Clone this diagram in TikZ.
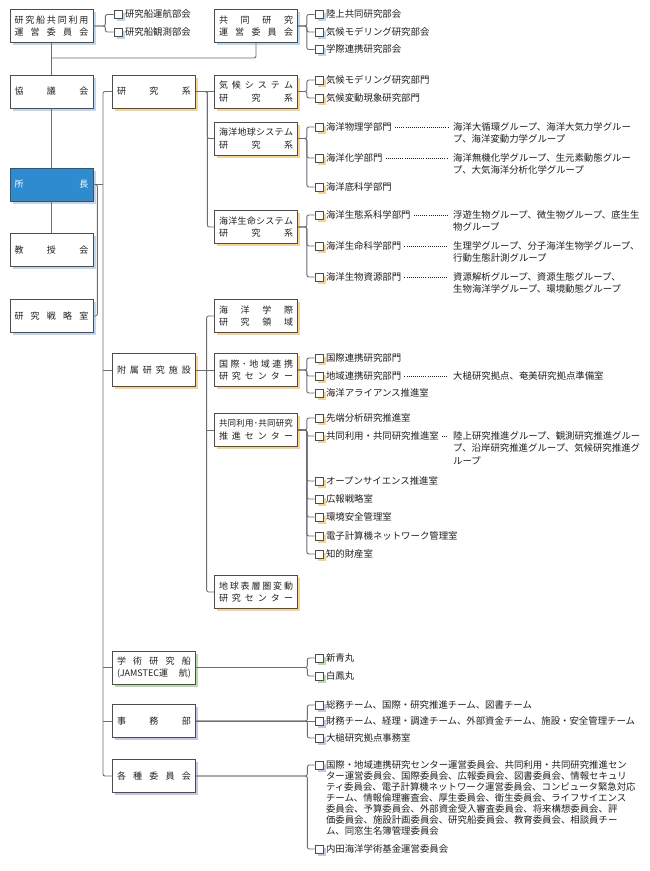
\documentclass[tikz,border=0pt]{standalone}
\usepackage{fontspec}
\setmainfont{Noto Sans CJK JP}
\usetikzlibrary{shadows}

\definecolor{lgrau}{HTML}{6D6E71}
\definecolor{rahmen}{HTML}{4D4D4F}
\definecolor{schrift}{HTML}{231F20}
\definecolor{leitung}{HTML}{2E8BCF}
\definecolor{sblau}{HTML}{BCD8F0}
\definecolor{sorange}{HTML}{F9D28E}
\definecolor{sgruen}{HTML}{B6DBA9}
\definecolor{slila}{HTML}{C9C3E6}

% Zeichen ueber die Kastenbreite verteilen
\makeatletter
\def\vt@ende{\vt@ende@}
\newcommand{\verteilt}[1]{\hbox to 74pt{\vt@a#1\vt@ende}}
\def\vt@a#1{#1\vt@b}
\def\vt@b#1{\ifx#1\vt@ende\else\hfill#1\expandafter\vt@b\fi}
\makeatother
% mehrzeiliger Text, Grundlinie = erste Zeile
\newcommand{\zeilen}[2][12.5pt]{\vtop{\hsize=320pt\parindent=0pt\lineskiplimit=-20pt\baselineskip=#1\relax #2}}

\begin{document}
\begin{tikzpicture}[x=1pt, y=-1pt,
	linie/.style={draw=lgrau, line width=0.9pt, rounded corners=2pt},
	kasten/.style={draw=rahmen, line width=0.7pt, fill=white, text=schrift,
		minimum width=83pt, minimum height=33pt, inner sep=0pt, align=center,
		font=\fontsize{9}{12.5}\selectfont},
	schatten/.style={drop shadow={shadow xshift=2.8pt, shadow yshift=-2.8pt,
		fill=#1, opacity=1}},
	kaestchen/.style={draw=rahmen, line width=0.6pt, fill=white,
		minimum size=8pt, inner sep=0pt},
	eintrag/.style={anchor=base west, inner sep=0pt, xshift=2.5pt, yshift=-3.4pt,
		text=schrift, font=\fontsize{9.4}{12.5}\selectfont},
	gruppe/.style={anchor=base west, inner sep=0pt, text=schrift,
		font=\fontsize{9.4}{12.5}\selectfont},
	punkte/.style={draw=schrift, line width=0.6pt, dash pattern=on 0.6pt off 1.5pt,
		shorten <=3pt, shorten >=5pt}]
	\fill[white] (0,0) rectangle (650,871);
	\useasboundingbox (0,0) rectangle (650,871);
	% Linke Spalte
	\node[kasten, schatten=sblau] (rvk) at (51.5,26) {\verteilt{研究船共同利用}\\\verteilt{運営委員会}};
	\node[kasten, schatten=sblau] (kyogi) at (51.5,91.5) {\verteilt{協議会}};
	\node[kasten, schatten=sblau, fill=leitung, text=white] (shocho) at (51.5,184.5) {\verteilt{所長}};
	\node[kasten, schatten=sblau] (kyoju) at (51.5,250) {\verteilt{教授会}};
	\node[kasten, schatten=sblau] (senryaku) at (51.5,316) {\verteilt{研究戦略室}};
	% Mittlere Spalte
	\node[kasten, schatten=sorange] (kenkyu) at (154,91.5) {\verteilt{研究系}};
	\node[kasten, schatten=sorange] (fuzoku) at (154,370) {\verteilt{附属研究施設}};
	\node[kasten, schatten=sgruen] (fune) at (154,667.5) {\verteilt{学術研究船}\\\hbox to 74pt{(JAMSTEC運\hfill 航)}};
	\node[kasten, schatten=slila] (jimu) at (154,721) {\verteilt{事務部}};
	\node[kasten, schatten=slila] (iinkai) at (154,776) {\verteilt{各種委員会}};
	% Rechte Spalte
	\node[kasten, schatten=sblau] (kyoken) at (256,26) {\verteilt{共同研究}\\\verteilt{運営委員会}};
	\node[kasten, schatten=sorange] (kiko) at (256,91.5) {\verteilt{気候システム}\\\verteilt{研究系}};
	\node[kasten, schatten=sorange] (chikyu) at (256,138.5) {\verteilt{海洋地球システム}\\\verteilt{研究系}};
	\node[kasten, schatten=sorange] (seimei) at (256,227) {\verteilt{海洋生命システム}\\\verteilt{研究系}};
	\node[kasten, schatten=sorange] (gakusai) at (256,316) {\verteilt{海洋学際}\\\verteilt{研究領域}};
	\node[kasten, schatten=sorange] (kokusai) at (256,370) {\verteilt{国際･地域連携}\\\verteilt{研究センター}};
	\node[kasten, schatten=sorange] (kyodo) at (256,430) {{\fontsize{8.5}{12.5}\selectfont\verteilt{共同利用･共同研究}}\\\verteilt{推進センター}};
	\node[kasten, schatten=sorange] (hyoso) at (256,592) {\verteilt{地球表層圏変動}\\\verteilt{研究センター}};
	% Unterteilungen
	\foreach \n/\y/\t in {a1/14.5/研究船運航部会, a2/32/研究船観測部会} {
		\node[kaestchen, schatten=sblau] (\n) at (118,\y) {};
		\node[eintrag] (t\n) at (\n.east) {\t};
	}
	\foreach \n/\y/\t in {b1/14.5/陸上共同研究部会, b2/32/気候モデリング研究部会,
		b3/49.5/学際連携研究部会} {
		\node[kaestchen, schatten=sblau] (\n) at (319,\y) {};
		\node[eintrag] (t\n) at (\n.east) {\t};
	}
	\foreach \n/\y/\t in {k1/80/気候モデリング研究部門, k2/98/気候変動現象研究部門,
		c1/127/海洋物理学部門, c2/158/海洋化学部門, c3/187/海洋底科学部門,
		s1/215/海洋生態系科学部門, s2/246/海洋生命科学部門, s3/277/海洋生物資源部門,
		r1/358/国際連携研究部門, r2/376/地域連携研究部門, r3/393/海洋アライアンス推進室,
		p1/418/先端分析研究推進室, p2/436/共同利用・共同研究推進室,
		p3/481/オープンサイエンス推進室, p4/499/広報戦略室, p5/517/環境安全管理室,
		p6/536/電子計算機ネットワーク管理室, p7/554/知的財産室} {
		\node[kaestchen, schatten=sorange] (\n) at (319,\y) {};
		\node[eintrag] (t\n) at (\n.east) {\t};
	}
	\foreach \n/\y/\t in {f1/658/新青丸, f2/676/白鳳丸} {
		\node[kaestchen, schatten=sgruen] (\n) at (319,\y) {};
		\node[eintrag] (t\n) at (\n.east) {\t};
	}
	\foreach \n/\y/\t in {j1/705/総務チーム、国際・研究推進チーム、図書チーム,
		j2/721/財務チーム、経理・調達チーム、外部資金チーム、施設・安全管理チーム,
		j3/738/大槌研究拠点事務室, i2/849/内田海洋学術基金運営委員会} {
		\node[kaestchen, schatten=slila] (\n) at (319,\y) {};
		\node[eintrag] (t\n) at (\n.east) {\t};
	}
	\node[kaestchen, schatten=slila] (i1) at (319,765) {};
	\node[eintrag] (ti1) at (i1.east) {\zeilen[11pt]{国際・地域連携研究センター運営委員会、共同利用・共同研究推進セン\par
		ター運営委員会、国際委員会、広報委員会、図書委員会、情報セキュリ\par
		ティ委員会、電子計算機ネットワーク運営委員会、コンピュータ緊急対応\par
		チーム、情報倫理審査会、厚生委員会、衛生委員会、ライフサイエンス\par
		委員会、予算委員会、外部資金受入審査委員会、将来構想委員会、評\par
		価委員会、施設計画委員会、研究船委員会、教育委員会、相談員チー\par
		ム、同窓生名簿管理委員会}};
	% Gruppen
	\coordinate (spalte) at (453,0);
	\node[gruppe] (gc1) at (tc1.base -| spalte) {\zeilen{海洋大循環グループ、海洋大気力学グルー\par プ、海洋変動力学グループ}};
	\node[gruppe] (gc2) at (tc2.base -| spalte) {\zeilen{海洋無機化学グループ、生元素動態グルー\par プ、大気海洋分析化学グループ}};
	\node[gruppe] (gs1) at (ts1.base -| spalte) {\zeilen{浮遊生物グループ、微生物グループ、底生生\par 物グループ}};
	\node[gruppe] (gs2) at (ts2.base -| spalte) {\zeilen{生理学グループ、分子海洋生物学グループ、\par 行動生態計測グループ}};
	\node[gruppe] (gs3) at (ts3.base -| spalte) {\zeilen{資源解析グループ、資源生態グループ、\par 生物海洋学グループ、環境動態グループ}};
	\node[gruppe] (gr2) at (tr2.base -| spalte) {大槌研究拠点、奄美研究拠点準備室};
	\node[gruppe] (gp2) at (tp2.base -| spalte) {\zeilen{陸上研究推進グループ、観測研究推進グルー\par プ、沿岸研究推進グループ、気候研究推進グ\par ループ}};
	\foreach \n in {c1, c2, s1, s2, s3, r2, p2}
		\draw[punkte] (t\n.east) -- (t\n.east -| g\n.west);
	% Verbindungen
	\coordinate (quer) at (0,58);
	\coordinate (stamm) at (103,0);
	\draw[linie] (rvk.south) -- (kyogi.north);
	\draw[linie] (kyoken.south) |- (rvk.south |- quer);
	\draw[linie] (kyogi.south) -- (shocho.north);
	\draw[linie] (shocho.south) -- (kyoju.north);
	\draw[linie] (shocho.east) -- (shocho.east -| stamm);
	\draw[linie] (senryaku.east) -- ++(4,0) |- (shocho.east);
	\draw[linie] (kenkyu.west) -| (stamm |- iinkai.west) -- (iinkai.west);
	\foreach \n in {fuzoku, fune, jimu}
		\draw[linie] (\n.west) -- (\n.west -| stamm);
	\draw[linie] (kenkyu.east) -- (kiko.west);
	\draw[linie] (kenkyu.east) -- ++(11.5,0) |- (chikyu.west);
	\draw[linie] (kenkyu.east) -- ++(11.5,0) |- (seimei.west);
	\draw[linie] (fuzoku.east) -- (kokusai.west);
	\draw[linie] (gakusai.west) -- ++(-7.5,0) |- (hyoso.west);
	\draw[linie] (kyodo.west) -- ++(-7.5,0);
	% Klammern zu den Unterteilungen
	\foreach \n in {a1, a2}
		\draw[linie] (rvk.east) -- ++(12,0) |- (\n.west);
	\foreach \n in {b1, b2, b3}
		\draw[linie] (kyoken.east) -- ++(9,0) |- (\n.west);
	\foreach \n in {k1, k2}
		\draw[linie] (kiko.east) -- ++(9,0) |- (\n.west);
	\foreach \n in {c1, c2, c3}
		\draw[linie] (chikyu.east) -- ++(9,0) |- (\n.west);
	\foreach \n in {s1, s2, s3}
		\draw[linie] (seimei.east) -- ++(9,0) |- (\n.west);
	\foreach \n in {r1, r2, r3}
		\draw[linie] (kokusai.east) -- ++(9,0) |- (\n.west);
	\foreach \n in {p1, p2, p3, p4, p5, p6, p7}
		\draw[linie] (kyodo.east) -- ++(9,0) |- (\n.west);
	\foreach \n in {f1, f2}
		\draw[linie] (fune.east) -- ++(111.5,0) |- (\n.west);
	\foreach \n in {j1, j3}
		\draw[linie] (jimu.east) -- ++(111.5,0) |- (\n.west);
	\draw[linie] (jimu.east) -- (j2.west);
	\foreach \n in {i1, i2}
		\draw[linie] (iinkai.east) -- ++(111.5,0) |- (\n.west);
\end{tikzpicture}
\end{document}
